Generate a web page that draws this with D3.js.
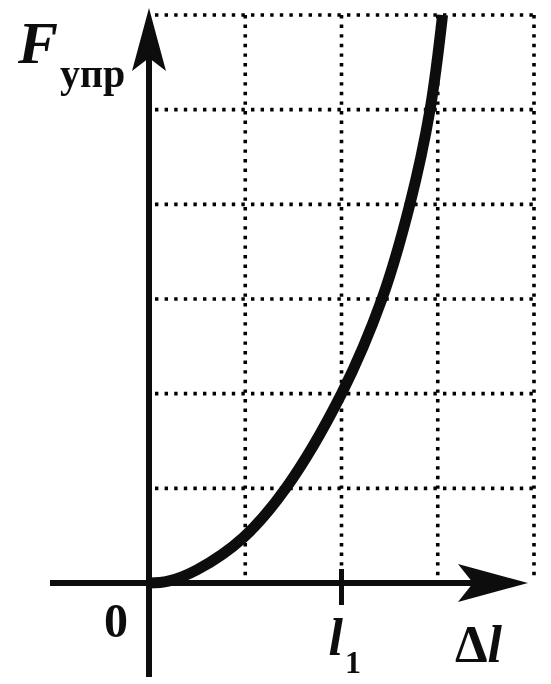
<!DOCTYPE html>
<html>
<head>
<meta charset="utf-8">
<script src="https://cdn.jsdelivr.net/npm/d3@7"></script>
<style>
  html, body { margin: 0; padding: 0; background: #fff; }
  svg { display: block; }
</style>
</head>
<body>
<svg id="chart" width="551" height="684"></svg>
<script>
// Grid divisions along each axis
const xGridValues = [1, 2, 3, 4];
const yGridValues = [1, 2, 3, 4, 5, 6];

// Elastic force vs. extension (grid units)
const extension = [0, 0.2, 0.5, 0.98, 1.42, 2.0, 2.42, 2.71, 2.92, 3.05];
const force     = [0, 0.02, 0.14, 0.48, 1.0, 2.0, 3.0, 4.0, 5.0, 6.0];

// Tick labels on the horizontal axis
const tickValues = [2];
const tickLabels = ["l"];
const tickSubs = ["1"];

const svg = d3.select("#chart");
const ink = "#111";

const x = d3.scaleLinear().domain([0, 4]).range([149, 534]);
const y = d3.scaleLinear().domain([0, 6]).range([583, 15]);

const soft = svg.append("defs").append("filter").attr("id", "soft");
soft.append("feGaussianBlur").attr("stdDeviation", 0.7);

const g = svg.append("g").attr("filter", "url(#soft)");

// Dotted grid
const grid = g.append("g")
  .attr("stroke", "#000")
  .attr("stroke-width", 3.6)
  .attr("stroke-dasharray", "3.4,6.2")
  .attr("fill", "none");

grid.selectAll("line.h").data(yGridValues).join("line")
  .attr("class", "h")
  .attr("x1", x(0) + 6).attr("x2", x(4))
  .attr("y1", d => y(d)).attr("y2", d => y(d));

grid.selectAll("line.v").data(xGridValues).join("line")
  .attr("class", "v")
  .attr("x1", d => x(d)).attr("x2", d => x(d))
  .attr("y1", y(6)).attr("y2", y(0) - 2);

// Axes
g.append("line")
  .attr("x1", 50).attr("x2", 505)
  .attr("y1", y(0)).attr("y2", y(0))
  .attr("stroke", ink).attr("stroke-width", 6);

g.append("line")
  .attr("x1", x(0)).attr("x2", x(0))
  .attr("y1", 677).attr("y2", 30)
  .attr("stroke", ink).attr("stroke-width", 6);

// Arrow heads
const xTip = 528, yAx = y(0);
g.append("path")
  .attr("d", `M${xTip},${yAx} L${xTip - 70},${yAx - 19} L${xTip - 55},${yAx} L${xTip - 70},${yAx + 19} Z`)
  .attr("fill", ink);

const yTip = 8, xAx = x(0);
g.append("path")
  .attr("d", `M${xAx},${yTip} L${xAx + 17},${yTip + 63} L${xAx},${yTip + 50} L${xAx - 17},${yTip + 63} Z`)
  .attr("fill", ink);

// Tick marks on the horizontal axis
g.selectAll("line.tick").data(tickValues).join("line")
  .attr("class", "tick")
  .attr("x1", d => x(d)).attr("x2", d => x(d))
  .attr("y1", y(0) - 14).attr("y2", y(0) + 22)
  .attr("stroke", ink).attr("stroke-width", 5);

// Force curve
const pts = extension.map((v, i) => [v, force[i]]);
g.append("path")
  .datum(pts)
  .attr("d", d3.line().x(d => x(d[0])).y(d => y(d[1])).curve(d3.curveCatmullRom.alpha(0.5)))
  .attr("fill", "none")
  .attr("stroke", ink)
  .attr("stroke-width", 11)
  .attr("stroke-linecap", "butt");

// Labels
const serif = "'Liberation Serif', 'DejaVu Serif', serif";

g.append("text")
  .attr("x", 128).attr("y", 637)
  .attr("text-anchor", "end")
  .attr("font-family", serif).attr("font-size", 48).attr("font-weight", "bold")
  .attr("fill", ink)
  .text("0");

const tl = g.selectAll("text.tl").data(tickValues).join("text")
  .attr("class", "tl")
  .attr("x", d => x(d) - 13).attr("y", 655)
  .attr("font-family", serif).attr("font-size", 52).attr("font-weight", "bold")
  .attr("fill", ink);
tl.append("tspan").attr("font-style", "italic").text((d, i) => tickLabels[i]);
tl.append("tspan").attr("font-size", 32).attr("dy", 18).attr("dx", 2).text((d, i) => tickSubs[i]);

const dl = g.append("text")
  .attr("x", 455).attr("y", 662)
  .attr("font-family", serif).attr("font-size", 52).attr("font-weight", "bold")
  .attr("fill", ink);
dl.append("tspan").text("Δ");
dl.append("tspan").attr("font-style", "italic").text("l");

const fl = g.append("text")
  .attr("x", 18).attr("y", 63)
  .attr("font-family", serif).attr("font-size", 60).attr("font-weight", "bold")
  .attr("fill", ink);
fl.append("tspan").attr("font-style", "italic").text("F");
fl.append("tspan").attr("font-size", 40).attr("dx", 2).attr("dy", 24).text("упр");
</script>
</body>
</html>
